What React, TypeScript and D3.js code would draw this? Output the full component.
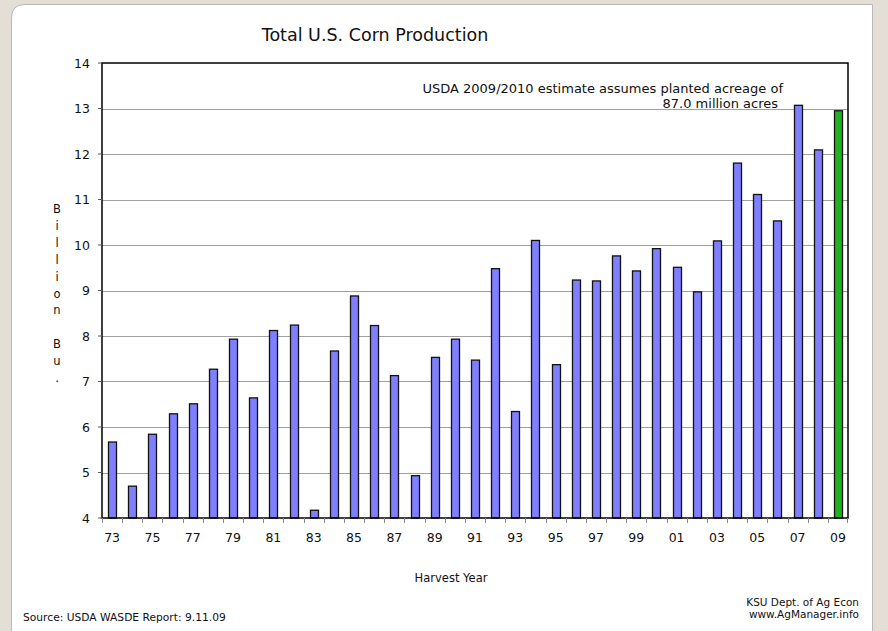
import React from "react";
import * as d3 from "d3";

const years = [
  "73","74","75","76","77","78","79","80","81","82","83","84","85","86","87","88","89","90","91","92",
  "93","94","95","96","97","98","99","00","01","02","03","04","05","06","07","08","09",
];
const production = [
  5.67, 4.7, 5.84, 6.29, 6.51, 7.27, 7.93, 6.64, 8.12, 8.24, 4.17, 7.67, 8.88, 8.23, 7.13, 4.93, 7.53, 7.93, 7.47, 9.48,
  6.34, 10.1, 7.37, 9.23, 9.21, 9.76, 9.43, 9.92, 9.51, 8.97, 10.09, 11.8, 11.11, 10.53, 13.07, 12.09, 12.95,
];
const estimateYear = "09";
const yTicks = [4, 5, 6, 7, 8, 9, 10, 11, 12, 13, 14];
const labeledYears = years.filter((_, i) => i % 2 === 0);
const yLabelChars = ["B", "i", "l", "l", "i", "o", "n", "", "B", "u", "."];

const W = 888;
const H = 631;
const M = { left: 102, right: 848, top: 63, bottom: 518 };
const FONT = "'DejaVu Sans', Verdana, sans-serif";

export default function App() {
  const band = d3.scaleBand<string>().domain(years).range([M.left, M.right]).padding(0);
  const y = d3.scaleLinear().domain([4, 14]).range([M.bottom, M.top]);
  const step = band.step();
  const barW = 8;

  return (
    <svg width={W} height={H} style={{ position: "absolute", left: 0, top: 0 }} fontFamily={FONT}>
      <rect x={0} y={0} width={W} height={H} fill="#e4dfd6" />
      <path
        d={`M11.5,${H + 5} L11.5,18 Q11.5,4.5 25,4.5 L872.5,4.5 L872.5,${H + 5}`}
        fill="#ffffff"
        stroke="#b8b8b8"
        strokeWidth={1}
      />
      <text x={375} y={41} fontSize={17.5} textAnchor="middle" fill="#111">
        Total U.S. Corn Production
      </text>

      {/* gridlines */}
      {yTicks.filter((t) => t > 4 && t < 14).map((t) => (
        <line key={t} x1={M.left} x2={M.right} y1={Math.round(y(t)) + 0.5} y2={Math.round(y(t)) + 0.5} stroke="#a0a0a0" strokeWidth={1} />
      ))}

      {/* bars */}
      {years.map((yr, i) => {
        const cx = (band(yr) as number) + step / 2;
        const top = y(production[i]);
        return (
          <rect
            key={yr}
            x={Math.round(cx - barW / 2) + 0.5}
            y={top}
            width={barW}
            height={y(4) - top}
            fill={yr === estimateYear ? "#1fb31f" : "#8080ff"}
            stroke="#111"
            strokeWidth={1.3}
          />
        );
      })}

      {/* plot frame */}
      <rect x={M.left} y={M.top} width={M.right - M.left} height={M.bottom - M.top} fill="none" stroke="#000" strokeWidth={1.5} />

      {/* y ticks */}
      {yTicks.map((t) => (
        <g key={t}>
          <line x1={M.left - 4} x2={M.left} y1={y(t)} y2={y(t)} stroke="#555" />
          <text x={90} y={y(t) + 4.5} fontSize={12.5} textAnchor="end" fill="#111">
            {t}
          </text>
        </g>
      ))}

      {/* x ticks */}
      {years.map((yr) => (
        <line
          key={"t" + yr}
          x1={Math.round(band(yr) as number) + 0.5}
          x2={Math.round(band(yr) as number) + 0.5}
          y1={M.bottom}
          y2={M.bottom + 5}
          stroke="#888"
        />
      ))}
      <line x1={M.right - 0.5} x2={M.right - 0.5} y1={M.bottom} y2={M.bottom + 5} stroke="#888" />
      {labeledYears.map((yr) => (
        <text key={"l" + yr} x={(band(yr) as number) + step / 2} y={542} fontSize={12.5} textAnchor="middle" fill="#111">
          {yr}
        </text>
      ))}

      {/* y axis label */}
      {yLabelChars.map((c, i) => (
        <text key={"c" + i} x={57} y={213 + i * 16.9} fontSize={11.5} textAnchor="middle" fill="#111">
          {c}
        </text>
      ))}

      <text x={451} y={582} fontSize={11.5} textAnchor="middle" fill="#111">
        Harvest Year
      </text>

      <text x={783} y={93} fontSize={13} textAnchor="end" fill="#111">
        USDA 2009/2010 estimate assumes planted acreage of
      </text>
      <text x={778} y={108} fontSize={13} textAnchor="end" fill="#111">
        87.0 million acres
      </text>

      <text x={23} y={621} fontSize={10.7} fill="#111">
        Source: USDA WASDE Report: 9.11.09
      </text>
      <text x={859} y={606} fontSize={10.5} textAnchor="end" fill="#111">
        KSU Dept. of Ag Econ
      </text>
      <text x={859} y={618} fontSize={10.5} textAnchor="end" fill="#111">
        www.AgManager.info
      </text>
    </svg>
  );
}
